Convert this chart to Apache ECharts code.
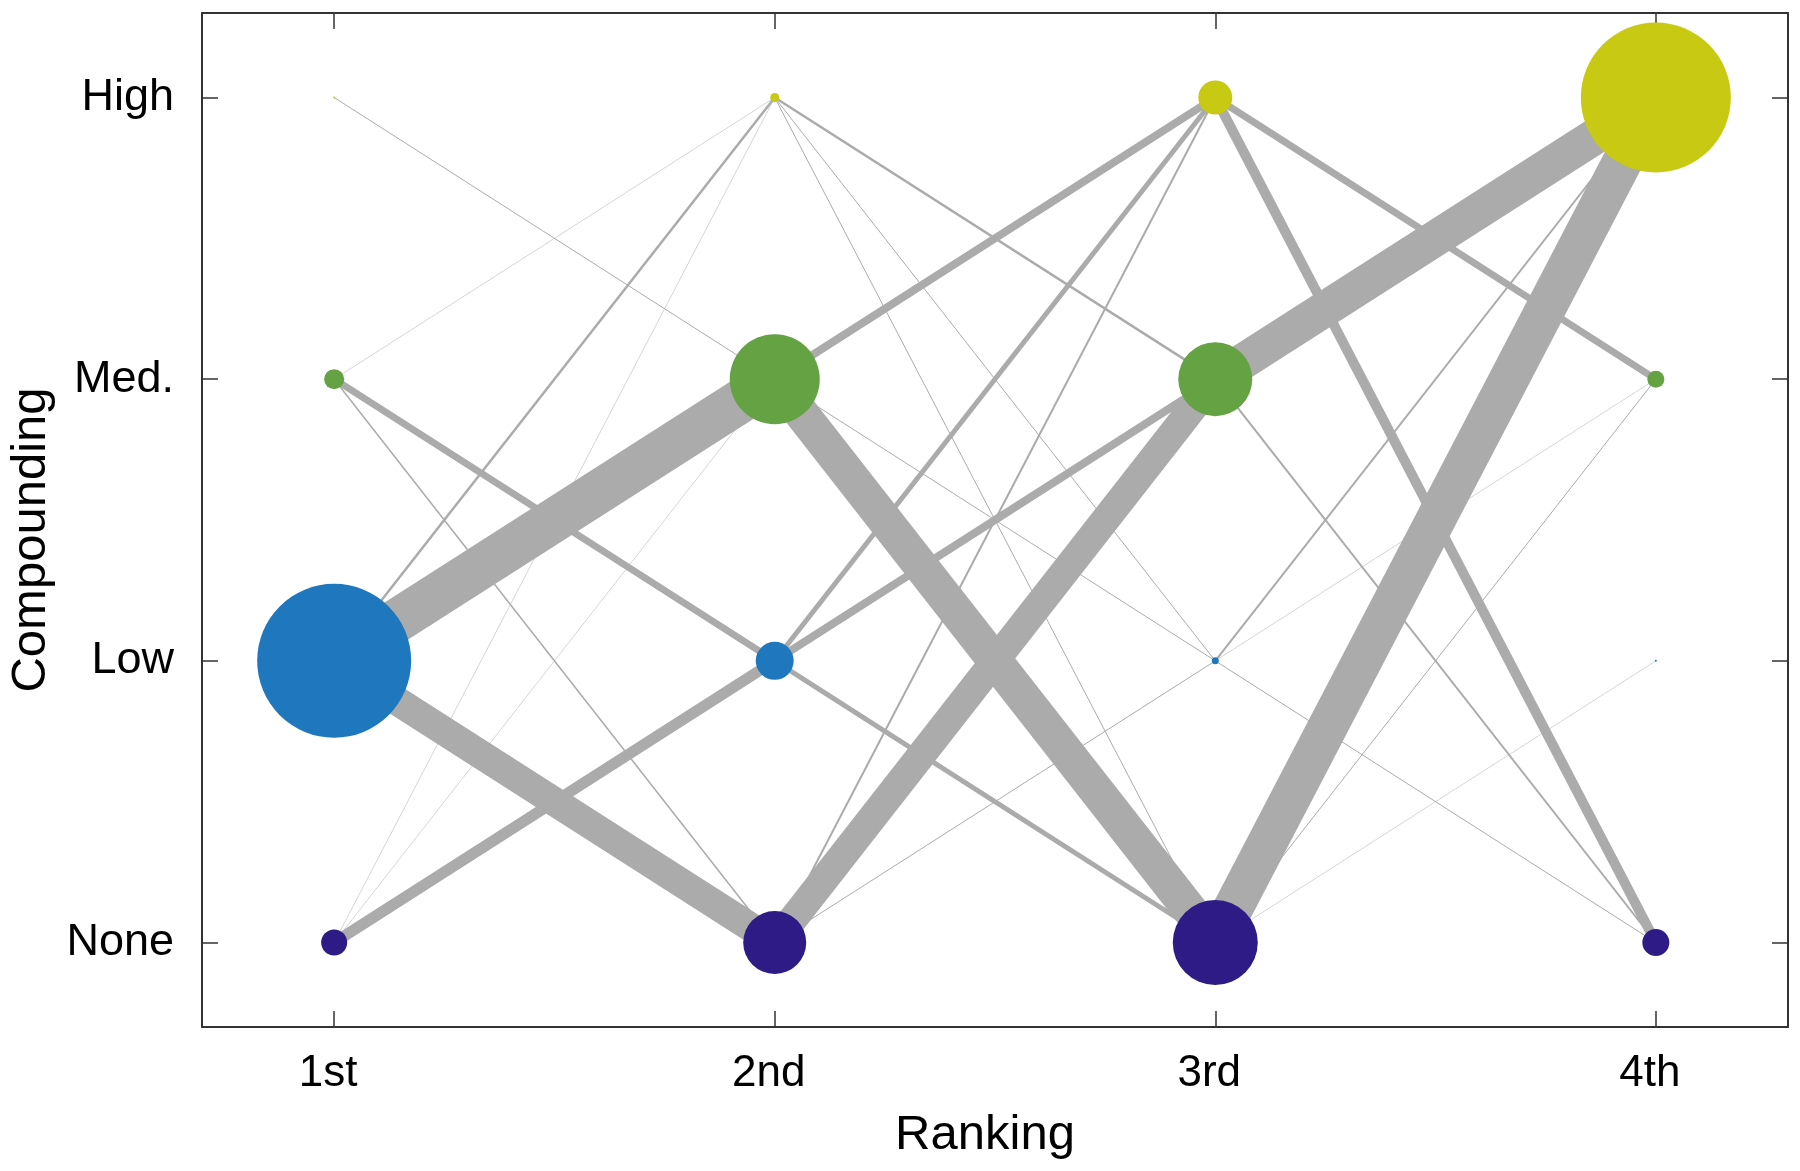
<!DOCTYPE html>
<html><head><meta charset="utf-8">
<script src="https://cdn.jsdelivr.net/npm/echarts@6/dist/echarts.min.js"></script>
<style>html,body{margin:0;padding:0;background:#fff}#c{width:1800px;height:1171px}</style>
</head><body><div id="c"></div>
<script>
// categories
const rankings = ['1st', '2nd', '3rd', '4th'];
const levels = ['None', 'Low', 'Med.', 'High'];
const levelColors = ['#2e1b86', '#1f77bd', '#64a244', '#c8c912'];
// node shares (%) per ranking, ordered None, Low, Med., High
const share1st = [13, 77, 10, 1];
const share2nd = [31.5, 19, 45, 4.5];
const share3rd = [42.5, 3.5, 37, 17];
const share4th = [13.5, 1, 8.5, 75];
// transitions between consecutive rankings: [fromLevel, toLevel, share %]
const trans1to2 = [[3,2,1],[2,3,0.5],[2,1,7],[2,0,1.5],[1,2,44],[1,0,29],[1,3,2.5],[0,1,11],[0,3,0.5],[0,2,0.5]];
const trans2to3 = [[3,2,2.5],[3,1,1],[3,0,1],[2,3,8],[2,0,35],[2,1,1],[1,3,5],[1,2,8],[1,0,5],[0,2,29],[0,3,2],[0,1,1]];
const trans3to4 = [[3,2,7],[3,0,10],[2,3,36],[2,0,2],[1,3,2],[1,2,0.5],[1,0,1],[0,3,40],[0,2,1],[0,1,0.5]];

const shares = [share1st, share2nd, share3rd, share4th];
const transitions = [trans1to2, trans2to3, trans3to4];

const nodeData = [];
shares.forEach((col, ci) => col.forEach((v, li) => {
  nodeData.push({ value: [ci + 1, li + 1, v], itemStyle: { color: levelColors[li] } });
}));
const edgeData = [];
transitions.forEach((list, ci) => list.forEach(t => {
  edgeData.push({ coords: [[ci + 1, t[0] + 1], [ci + 2, t[1] + 1]], lineStyle: { width: t[2] } });
}));

const tickVals = [1, 2, 3, 4];
const axisCol = '#333';
const font = 'Liberation Sans';
function axisBase(extra) {
  return Object.assign({
    type: 'value', min: 0.7, max: 4.3,
    splitLine: { show: false },
    axisLine: { show: true, onZero: false, lineStyle: { color: axisCol, width: 2 } },
    axisTick: { show: true, inside: true, length: 16, customValues: tickVals, lineStyle: { color: axisCol, width: 1.5 } },
  }, extra);
}
const chart = echarts.init(document.getElementById('c'), null, { renderer: 'canvas' });
chart.setOption({
  animation: false,
  backgroundColor: '#fff',
  grid: { left: 202, right: 12, top: 13, bottom: 144, containLabel: false, outerBoundsMode: 'none' },
  xAxis: [
    axisBase({
      position: 'bottom',
      name: 'Ranking', nameLocation: 'middle', nameGap: 84,
      nameTextStyle: { fontSize: 49, color: '#000', fontFamily: font, padding: [0, 20, 0, 0] },
      axisLabel: { show: true, customValues: tickVals, margin: 25, fontSize: 44, color: '#000', fontFamily: font,
        padding: [0, 12, 0, 0],
        formatter: v => rankings[Math.round(v) - 1] }
    }),
    axisBase({ position: 'top', axisLabel: { show: false } })
  ],
  yAxis: [
    axisBase({
      position: 'left',
      name: 'Compounding', nameLocation: 'middle', nameGap: 144,
      nameTextStyle: { fontSize: 49, color: '#000', fontFamily: font, padding: [0, 40, 0, 0] },
      axisLabel: { show: true, customValues: tickVals, margin: 28, fontSize: 45, color: '#000', fontFamily: font,
        formatter: v => levels[Math.round(v) - 1] }
    }),
    axisBase({ position: 'right', axisLabel: { show: false } })
  ],
  series: [
    {
      type: 'lines', coordinateSystem: 'cartesian2d', xAxisIndex: 0, yAxisIndex: 0,
      polyline: false, silent: true, z: 2,
      lineStyle: { color: '#ababab', opacity: 1, cap: 'butt' },
      data: edgeData
    },
    {
      type: 'scatter', xAxisIndex: 0, yAxisIndex: 0, z: 3,
      symbol: 'circle',
      symbolSize: v => Math.max(2 * v[2], 1),
      itemStyle: { opacity: 1 },
      data: nodeData
    }
  ]
});
</script></body></html>
